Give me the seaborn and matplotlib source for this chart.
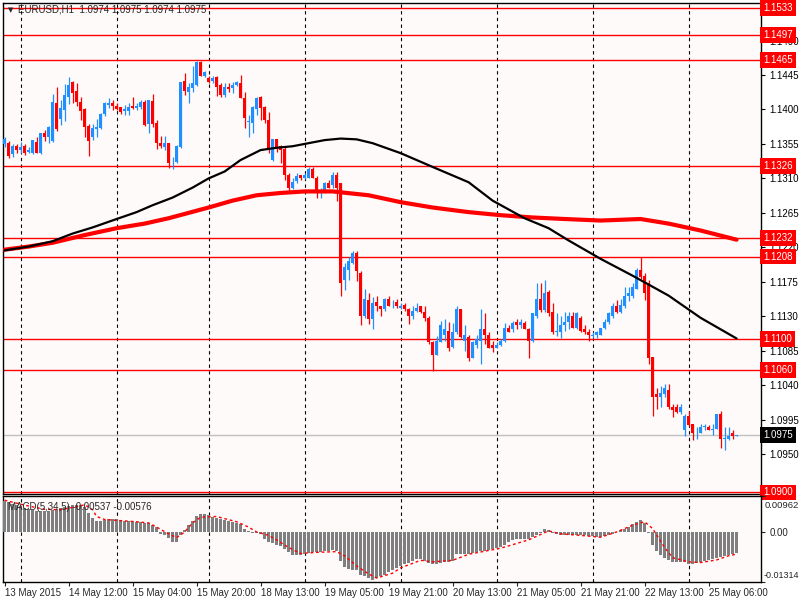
import numpy as np
import pandas as pd
import matplotlib
matplotlib.use('Agg')
import matplotlib.pyplot as plt
import seaborn as sns

sns.set_style('white')
plt.rcParams['font.family'] = ['Liberation Sans', 'DejaVu Sans']

# EURUSD H1 candles, prices in points (1 point = 0.0001)
opens = [
    11355, 11356, 11342, 11352, 11347, 11352, 11344, 11343, 11357, 11343,
    11369, 11364, 11359, 11408, 11387, 11399, 11416, 11436, 11424, 11410,
    11400, 11378, 11364, 11374, 11376, 11394, 11406, 11408, 11404, 11403,
    11398, 11398, 11404, 11402, 11403, 11410, 11381, 11411, 11382, 11356,
    11351, 11356, 11331, 11332, 11351, 11437, 11423, 11428, 11432, 11462,
    11444, 11441, 11437, 11442, 11432, 11419, 11429, 11428, 11432, 11434,
    11415, 11383, 11382, 11400, 11416, 11403, 11386, 11334, 11361, 11352,
    11348, 11315, 11298, 11306, 11314, 11310, 11311, 11322, 11311, 11291,
    11292, 11304, 11301, 11314, 11304, 11178, 11191, 11199, 11213, 11187,
    11130, 11151, 11126, 11149, 11144, 11140, 11153, 11147, 11149, 11141,
    11145, 11140, 11130, 11137, 11143, 11136, 11128, 11097, 11080, 11097,
    11105, 11111, 11090, 11109, 11139, 11098, 11103, 11076, 11093, 11098,
    11114, 11105, 11092, 11089, 11092, 11098, 11115, 11113, 11122, 11118,
    11121, 11114, 11098, 11131, 11153, 11138, 11162, 11136, 11110, 11109,
    11118, 11122, 11130, 11115, 11128, 11114, 11109, 11104, 11105, 11106,
    11115, 11122, 11130, 11144, 11135, 11143, 11157, 11156, 11166, 11191,
    11183, 11174, 11077, 11028, 11025, 11029, 11034, 11011, 11011, 11005,
    10981, 11000, 10990, 10977, 10978, 10985, 10985, 10982, 10983, 11003,
    10970, 10970, 10977, 10974]
highs = [
    11364, 11359, 11355, 11355, 11357, 11355, 11351, 11360, 11364, 11369,
    11373, 11378, 11420, 11429, 11412, 11433, 11442, 11437, 11435, 11416,
    11402, 11381, 11381, 11387, 11395, 11410, 11415, 11412, 11408, 11403,
    11406, 11408, 11416, 11408, 11412, 11412, 11413, 11420, 11386, 11366,
    11366, 11356, 11338, 11353, 11436, 11448, 11435, 11457, 11463, 11463,
    11450, 11444, 11444, 11444, 11434, 11434, 11434, 11436, 11437, 11445,
    11423, 11393, 11404, 11416, 11417, 11404, 11397, 11362, 11362, 11353,
    11351, 11317, 11311, 11317, 11314, 11317, 11325, 11325, 11313, 11298,
    11305, 11308, 11318, 11318, 11304, 11199, 11207, 11215, 11215, 11189,
    11165, 11160, 11155, 11157, 11144, 11154, 11157, 11151, 11152, 11148,
    11148, 11141, 11144, 11148, 11144, 11144, 11130, 11098, 11104, 11124,
    11126, 11122, 11121, 11143, 11140, 11118, 11105, 11098, 11105, 11140,
    11134, 11109, 11098, 11096, 11100, 11121, 11118, 11124, 11126, 11126,
    11124, 11115, 11134, 11173, 11173, 11178, 11164, 11147, 11134, 11131,
    11135, 11136, 11136, 11135, 11131, 11118, 11114, 11109, 11111, 11115,
    11127, 11135, 11147, 11151, 11153, 11168, 11168, 11174, 11193, 11207,
    11186, 11177, 11077, 11037, 11039, 11042, 11042, 11015, 11015, 11016,
    11002, 11007, 10990, 10985, 10990, 10990, 10988, 10990, 11003, 11007,
    10985, 10985, 10982, 10975]
lows = [
    11351, 11336, 11338, 11343, 11343, 11340, 11343, 11342, 11343, 11342,
    11359, 11356, 11357, 11372, 11380, 11385, 11407, 11408, 11404, 11386,
    11364, 11339, 11360, 11364, 11375, 11392, 11402, 11399, 11399, 11394,
    11393, 11393, 11400, 11399, 11400, 11378, 11369, 11377, 11348, 11350,
    11347, 11324, 11322, 11330, 11350, 11419, 11408, 11423, 11430, 11444,
    11442, 11434, 11434, 11418, 11416, 11416, 11423, 11421, 11431, 11415,
    11376, 11364, 11369, 11393, 11386, 11382, 11343, 11333, 11345, 11330,
    11308, 11294, 11296, 11304, 11308, 11309, 11310, 11310, 11284, 11284,
    11291, 11297, 11298, 11281, 11156, 11164, 11178, 11198, 11176, 11119,
    11128, 11120, 11114, 11137, 11130, 11137, 11143, 11141, 11141, 11140,
    11137, 11120, 11127, 11135, 11134, 11124, 11094, 11059, 11079, 11096,
    11098, 11085, 11088, 11107, 11102, 11085, 11072, 11075, 11089, 11068,
    11094, 11088, 11084, 11088, 11091, 11097, 11109, 11110, 11114, 11115,
    11113, 11076, 11097, 11128, 11135, 11135, 11131, 11107, 11104, 11102,
    11111, 11114, 11115, 11114, 11109, 11107, 11098, 11102, 11102, 11105,
    11114, 11120, 11128, 11134, 11134, 11141, 11150, 11154, 11165, 11179,
    11151, 11068, 11000, 11009, 11011, 11024, 11009, 10998, 11004, 11003,
    10974, 10987, 10969, 10970, 10977, 10981, 10981, 10975, 10983, 10958,
    10956, 10969, 10970, 10974]
closes = [
    11362, 11339, 11352, 11347, 11351, 11343, 11347, 11360, 11343, 11369,
    11364, 11377, 11410, 11374, 11402, 11419, 11432, 11421, 11410, 11398,
    11377, 11359, 11376, 11377, 11394, 11408, 11408, 11404, 11400, 11397,
    11400, 11403, 11402, 11404, 11410, 11380, 11412, 11381, 11356, 11352,
    11356, 11330, 11332, 11352, 11436, 11424, 11429, 11434, 11462, 11444,
    11449, 11436, 11441, 11429, 11419, 11429, 11427, 11432, 11436, 11415,
    11389, 11385, 11403, 11415, 11402, 11386, 11347, 11362, 11349, 11347,
    11315, 11298, 11305, 11313, 11311, 11314, 11322, 11311, 11292, 11295,
    11304, 11298, 11314, 11298, 11174, 11195, 11202, 11212, 11189, 11130,
    11152, 11126, 11148, 11143, 11140, 11152, 11144, 11148, 11143, 11144,
    11139, 11131, 11137, 11141, 11136, 11128, 11096, 11080, 11098, 11118,
    11114, 11089, 11109, 11140, 11103, 11105, 11076, 11096, 11100, 11113,
    11105, 11089, 11088, 11093, 11098, 11115, 11110, 11121, 11118, 11122,
    11114, 11098, 11134, 11152, 11138, 11161, 11134, 11109, 11111, 11118,
    11123, 11131, 11115, 11134, 11111, 11109, 11105, 11106, 11109, 11115,
    11123, 11134, 11144, 11135, 11145, 11157, 11160, 11168, 11190, 11181,
    11160, 11076, 11025, 11025, 11030, 11036, 11011, 11008, 11005, 11011,
    11000, 10988, 10977, 10978, 10985, 10987, 10982, 10983, 11003, 10970,
    10971, 10974, 10974, 10975]

# moving averages (bar index, price)
black_ma_bar = [0, 6, 12, 17, 22, 28, 33, 37, 42, 47, 51, 55, 59, 64, 68, 72, 76,
                80, 84, 88, 92, 99, 107, 116, 122, 130, 136, 141, 149, 157, 166, 174, 183]
black_ma = [1.1216, 1.1221, 1.1228, 1.1238, 1.1246, 1.1257, 1.1266, 1.1275, 1.1285,
            1.1298, 1.1310, 1.1319, 1.1334, 1.1347, 1.1350, 1.1352, 1.1356, 1.1360,
            1.1362, 1.1361, 1.1356, 1.1343, 1.1325, 1.1305, 1.1281, 1.1258, 1.1245,
            1.1229, 1.1205, 1.1183, 1.1157, 1.1128, 1.1101]
red_ma_bar = [0, 6, 12, 20, 28, 35, 41, 51, 57, 63, 69, 75, 82, 91, 99, 107, 116,
              124, 132, 140, 149, 159, 166, 174, 183]
red_ma = [1.1217, 1.1221, 1.1226, 1.1236, 1.1245, 1.1251, 1.1258, 1.1272, 1.1281,
          1.1288, 1.1291, 1.1293, 1.1293, 1.1288, 1.1279, 1.1272, 1.1266, 1.1262,
          1.1259, 1.1257, 1.1255, 1.1257, 1.1251, 1.1242, 1.1230]

levels = [1.1533, 1.1497, 1.1465, 1.1326, 1.1232, 1.1208, 1.1100, 1.1060, 1.0900]
last_price = 1.0975

# MACD(5,34,5) histogram
macd = [
    0.00822, 0.00795, 0.00759, 0.00713, 0.00686, 0.00641, 0.00614, 0.00596, 0.00578, 0.00578,
    0.00578, 0.00578, 0.00596, 0.00623, 0.00641, 0.00668, 0.00686, 0.00713, 0.00731, 0.00722,
    0.00668, 0.00506, 0.00370, 0.00307, 0.00307, 0.00325, 0.00343, 0.00343, 0.00343, 0.00325,
    0.00307, 0.00307, 0.00289, 0.00280, 0.00271, 0.00253, 0.00235, 0.00190, 0.00144, -0.00036,
    -0.00081, -0.00144, -0.00262, -0.00244, -0.00081, 0.00054, 0.00190, 0.00307, 0.00433, 0.00479,
    0.00479, 0.00461, 0.00415, 0.00370, 0.00343, 0.00325, 0.00307, 0.00280, 0.00253, 0.00217,
    0.00099, 0.00036, -0.00005, -0.00018, -0.00054, -0.00172, -0.00262, -0.00289, -0.00325, -0.00352,
    -0.00442, -0.00533, -0.00596, -0.00596, -0.00596, -0.00578, -0.00551, -0.00533, -0.00533, -0.00515,
    -0.00506, -0.00488, -0.00470, -0.00488, -0.00759, -0.00921, -0.00957, -0.00984, -0.00984, -0.01120,
    -0.01165, -0.01210, -0.01255, -0.01210, -0.01165, -0.01120, -0.01050, -0.01000, -0.00940, -0.00880,
    -0.00831, -0.00804, -0.00759, -0.00713, -0.00713, -0.00759, -0.00804, -0.00831, -0.00831, -0.00804,
    -0.00786, -0.00777, -0.00759, -0.00560, -0.00560, -0.00560, -0.00560, -0.00542, -0.00524, -0.00506,
    -0.00488, -0.00470, -0.00442, -0.00415, -0.00397, -0.00334, -0.00262, -0.00199, -0.00181, -0.00172,
    -0.00172, -0.00163, -0.00126, -0.00081, -0.00018, 0.00099, 0.00054, -0.00018, -0.00054, -0.00081,
    -0.00072, -0.00072, -0.00072, -0.00081, -0.00081, -0.00081, -0.00090, -0.00108, -0.00126, -0.00126,
    -0.00108, -0.00081, -0.00036, 0.00009, 0.00054, 0.00099, 0.00144, 0.00208, 0.00280, 0.00325,
    0.00235, -0.00018, -0.00325, -0.00506, -0.00596, -0.00668, -0.00731, -0.00777, -0.00777, -0.00777,
    -0.00786, -0.00831, -0.00831, -0.00813, -0.00786, -0.00759, -0.00731, -0.00704, -0.00668, -0.00650,
    -0.00632, -0.00605, -0.00578, -0.00537]
signal_bar = [0, 5, 10, 14, 18, 20, 22, 23, 25, 33, 36, 38, 41, 43, 45, 47, 49, 53, 58, 61,
              63, 66, 68, 71, 74, 78, 83, 85, 88, 91, 93, 97, 99, 104, 107, 112, 116, 124, 131, 136,
              139, 144, 149, 153, 157, 160, 162, 165, 167, 171, 174, 178, 181, 183]
signal = [0.0085, 0.0072, 0.0061, 0.0060, 0.0068, 0.0073, 0.0060, 0.0042, 0.0034, 0.0028,
          0.0025, 0.0014, -0.0004, -0.0014, 0.0001, 0.0025, 0.0040, 0.0042, 0.0028, 0.0014,
          0.0001, -0.0008, -0.0020, -0.0040, -0.0056, -0.0053, -0.0051, -0.0062, -0.0089, -0.0110,
          -0.0121, -0.0108, -0.0094, -0.0074, -0.0078, -0.0074, -0.0058, -0.0042, -0.0020, 0.0004,
          -0.0004, -0.0008, -0.0013, 0.0001, 0.0019, 0.0028, 0.0010, -0.0040, -0.0067, -0.0078,
          -0.0080, -0.0073, -0.0062, -0.00576]

time_bars = [0, 16, 32, 48, 64, 80, 96, 112, 128, 144, 160, 176]
time_labels = ['13 May 2015', '14 May 12:00', '15 May 04:00', '15 May 20:00',
               '18 May 13:00', '19 May 05:00', '19 May 21:00', '20 May 13:00',
               '21 May 05:00', '21 May 21:00', '22 May 13:00', '25 May 06:00']
day_bars = [4, 28, 51, 75, 99, 123, 147, 171]

df = pd.DataFrame({'open': opens, 'high': highs, 'low': lows, 'close': closes}) / 10000
df['bar'] = np.arange(len(df))
df['macd'] = macd
bull = df['close'] > df['open']
colors = np.where(bull, '#1E90FF', '#FF0000')

fig = plt.figure(figsize=(8, 6), dpi=100)
fig.patch.set_facecolor('white')
ax = fig.add_axes([3 / 800, 106 / 600, 758 / 800, 491 / 600])
ax2 = fig.add_axes([3 / 800, 18 / 600, 758 / 800, 86 / 600])

for a in (ax, ax2):
    a.set_facecolor('#FFFAFA')
    for s in a.spines.values():
        s.set_color('black')
        s.set_linewidth(1)
    a.set_xlim(-0.4, 189.1)
    for g in day_bars:
        a.axvline(g, color='black', lw=0.8, ls=(0, (3, 3)), zorder=1)
    a.yaxis.tick_right()

# price panel
for lv in levels:
    ax.axhline(lv, color='red', lw=1, zorder=2)
ax.axhline(last_price, color='#C0C0C0', lw=1, zorder=2)

ax.vlines(df['bar'], df['low'], df['high'], colors=colors, lw=0.9, zorder=3)
body_low = np.minimum(df['open'], df['close'])
body_h = np.maximum((df['close'] - df['open']).abs(), 0.00008)
ax.bar(df['bar'], body_h, bottom=body_low, width=0.8, color=colors, lw=0, zorder=4)

sns.lineplot(x=red_ma_bar, y=red_ma, ax=ax, color='#FF0000', lw=3, zorder=5)
sns.lineplot(x=black_ma_bar, y=black_ma, ax=ax, color='black', lw=1.6, zorder=6)

ax.set_ylim(1.0898, 1.1539)
yt = [1.0950 + 0.0045 * k for k in range(13)]
ax.set_yticks(yt)
ax.set_yticklabels([f'{v:.4f}' for v in yt])
ax.tick_params(axis='y', length=3, labelsize=7, pad=3, colors='black')
ax.set_xticks([])
ax.set_xlabel('')
ax.set_ylabel('')

box_kw = dict(transform=ax.get_yaxis_transform(), ha='left', va='center', fontsize=7,
              color='white', zorder=10, clip_on=False)
for lv in levels:
    ax.text(1.003, lv, f'{lv:.4f}', bbox=dict(boxstyle='square,pad=0.3', fc='#FF0000', ec='none'), **box_kw)
ax.text(1.003, last_price, f'{last_price:.4f}', bbox=dict(boxstyle='square,pad=0.3', fc='black', ec='none'), **box_kw)

fig.text(8 / 800, 1 - 10 / 600, '▼', fontsize=5, va='center', family='DejaVu Sans')
fig.text(18 / 800, 1 - 10 / 600, 'EURUSD,H1  1.0974 1.0975 1.0974 1.0975', fontsize=7, va='center')

# MACD panel
ax2.bar(df['bar'], df['macd'], width=0.8, color='#7F7F7F', lw=0, zorder=3)
sns.lineplot(x=signal_bar, y=signal, ax=ax2, color='#FF0000', lw=1, ls=(0, (2, 2)), zorder=4)
ax2.set_ylim(-0.01314, 0.00962)
ax2.set_yticks([0.00962, 0.0, -0.01314])
ax2.set_yticklabels(['', '0.00', ''])
ax2.tick_params(axis='y', length=3, labelsize=7, pad=3)
ax2.text(1.005, 0.89, '0.00962', transform=ax2.transAxes, ha='left', va='center', fontsize=6.8)
ax2.text(1.003, 0.07, '-0.01314', transform=ax2.transAxes, ha='left', va='center', fontsize=6.5)
ax2.set_xticks(time_bars)
ax2.set_xticklabels(time_labels, ha='left', fontsize=7)
ax2.tick_params(axis='x', length=3, pad=1, bottom=True)
ax2.set_xlabel('')
ax2.set_ylabel('')
ax2.text(0.007, 0.93, 'MACD(5,34,5) -0.00537 -0.00576', transform=ax2.transAxes,
         fontsize=7, va='top', zorder=6)

fig.savefig('out.png', dpi=100)
